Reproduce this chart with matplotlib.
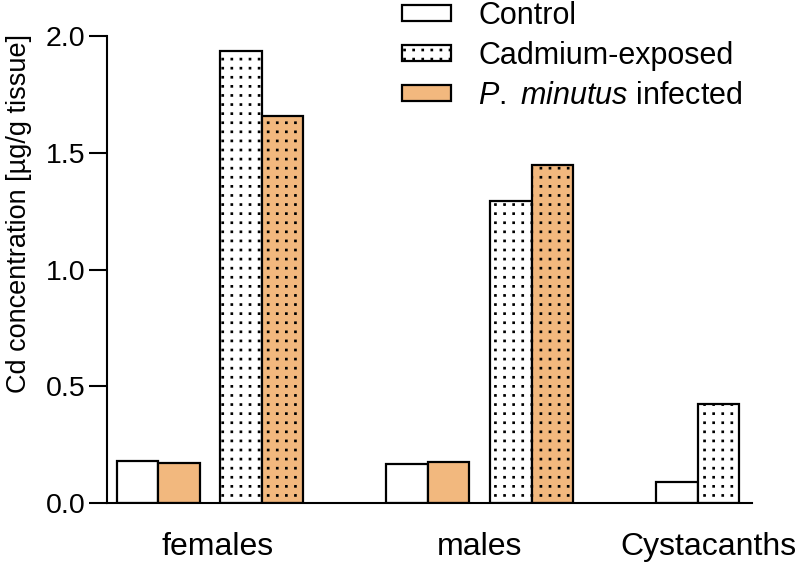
import matplotlib
matplotlib.use("Agg")
import matplotlib.pyplot as plt
import matplotlib.hatch as mhatch
from matplotlib.path import Path
from matplotlib.patches import Patch
import numpy as np

plt.rcParams['font.family'] = ['Liberation Sans', 'DejaVu Sans']
plt.rcParams['mathtext.fontset'] = 'custom'
plt.rcParams['mathtext.rm'] = 'Liberation Sans'
plt.rcParams['mathtext.it'] = 'Liberation Sans:italic'
plt.rcParams['hatch.linewidth'] = 1.35


# aligned grid of small dots used as the '*' hatch
class GridDots(mhatch.HatchPatternBase):
    def __init__(self, hatch, density):
        self.n = hatch.count('*') * 11
        self.num_vertices = self.n * self.n * 5

    def set_vertices_and_codes(self, vertices, codes):
        n = self.n
        s = 0.004
        sq = np.array([[-s, -s], [s, -s], [s, s], [-s, s], [-s, -s]])
        k = 0
        for i in range(n):
            for j in range(n):
                c = np.array([(i + 0.5) / n, (j + 0.5) / n])
                vertices[k:k + 5] = sq + c
                codes[k:k + 5] = [Path.MOVETO, Path.LINETO, Path.LINETO,
                                  Path.LINETO, Path.CLOSEPOLY]
                k += 5


mhatch._hatch_types = [t for t in mhatch._hatch_types if t is not mhatch.Stars] + [GridDots]

# ---- data ----
groups = ["females", "males", "Cystacanths"]
females_vals = [0.181, 0.170, 1.937, 1.657]
males_vals = [0.166, 0.176, 1.295, 1.448]
cysta_vals = [0.089, 0.424]
females_kind = ["control", "infected", "cadmium", "cadmium_infected"]
males_kind = ["control", "infected", "cadmium", "cadmium_infected"]
cysta_kind = ["control", "cadmium"]
legend_labels = ["Control", "Cadmium-exposed", r"$\it{P.\ minutus}$ infected"]
yticks = [0.0, 0.5, 1.0, 1.5, 2.0]

orange = "#F2B87E"
styles = {
    "control": dict(facecolor="white", hatch=None),
    "infected": dict(facecolor=orange, hatch=None),
    "cadmium": dict(facecolor="white", hatch="*"),
    "cadmium_infected": dict(facecolor=orange, hatch="*"),
}

fig = plt.figure(figsize=(7.99, 5.66), dpi=100)
ax = fig.add_axes([107/799, 1-503/566, (752-107)/799, (503-36)/566])

# layout in bar-width units
group_starts = [0.0, 6.5, 13.0]
pair_offsets = [0.0, 1.0, 2.5, 3.5]
all_vals = [females_vals, males_vals, cysta_vals]
all_kinds = [females_kind, males_kind, cysta_kind]

for gs, vals, kinds in zip(group_starts, all_vals, all_kinds):
    for i, (v, k) in enumerate(zip(vals, kinds)):
        st = styles[k]
        ax.bar(gs + pair_offsets[i], v, width=1.0, facecolor=st["facecolor"],
               hatch=st["hatch"], edgecolor="black", linewidth=1.6)

ax.set_xlim(-0.735, 14.81)
ax.set_ylim(0, 2.0)
ax.set_yticks(yticks)
ax.set_yticklabels([f"{t:.1f}" for t in yticks], fontsize=20.5)
label_pos = [1.92, 8.25, 13.75]
ax.set_xticks(label_pos)
ax.set_xticklabels(groups, fontsize=23)
ax.tick_params(axis='x', length=0, pad=21)
ax.tick_params(axis='y', length=13, width=1.5, pad=2.5, direction='out')

for s in ["top", "right"]:
    ax.spines[s].set_visible(False)
for s in ["left", "bottom"]:
    ax.spines[s].set_linewidth(1.5)

ax.set_ylabel("Cd concentration [µg/g tissue]", fontsize=19.5)
ax.yaxis.set_label_coords(-0.117, 0.62)

handles = [
    Patch(facecolor="white", edgecolor="black", linewidth=1.6),
    Patch(facecolor="white", edgecolor="black", hatch="*", linewidth=1.6),
    Patch(facecolor=orange, edgecolor="black", linewidth=1.6),
]
fig.legend(handles, legend_labels, loc="upper left", bbox_to_anchor=(402/799, 0.998),
           frameon=False, fontsize=22, handlelength=1.6, handleheight=0.45,
           handletextpad=0.9, labelspacing=0.32, borderaxespad=0.0, borderpad=0.0)

fig.savefig("out.png", dpi=100)
